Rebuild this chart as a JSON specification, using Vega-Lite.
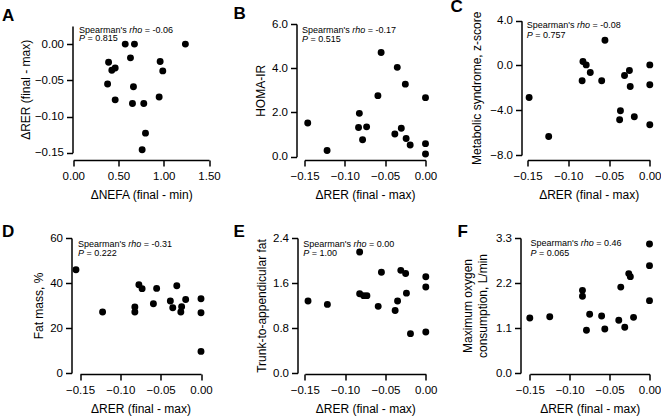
{
  "$schema": "https://vega.github.io/schema/vega-lite/v6.json",
  "autosize": {"type": "none"},
  "padding": {"left": 72.5, "top": 20, "right": 588.5, "bottom": 400},
  "bounds": "flush",
  "columns": 3,
  "spacing": {"row": 78, "column": 88},
  "datasets": {
    "A": [
      {"nefa": 0.574, "rer": 0}, {"nefa": 0.676, "rer": 0}, {"nefa": 1.239, "rer": 0},
      {"nefa": 0.632, "rer": -0.019}, {"nefa": 0.39, "rer": -0.025}, {"nefa": 0.96, "rer": -0.024},
      {"nefa": 0.463, "rer": -0.033}, {"nefa": 0.426, "rer": -0.036}, {"nefa": 0.989, "rer": -0.037},
      {"nefa": 0.379, "rer": -0.055}, {"nefa": 0.665, "rer": -0.059}, {"nefa": 0.949, "rer": -0.073},
      {"nefa": 0.463, "rer": -0.077}, {"nefa": 0.654, "rer": -0.082}, {"nefa": 0.779, "rer": -0.082},
      {"nefa": 0.798, "rer": -0.123}, {"nefa": 0.761, "rer": -0.146}
    ],
    "B": [
      {"rer": -0.146, "homa": 1.52}, {"rer": -0.122, "homa": 0.28}, {"rer": -0.082, "homa": 1.96},
      {"rer": -0.083, "homa": 1.32}, {"rer": -0.073, "homa": 1.35}, {"rer": -0.078, "homa": 0.77},
      {"rer": -0.059, "homa": 2.76}, {"rer": -0.055, "homa": 4.71}, {"rer": -0.038, "homa": 1.03},
      {"rer": -0.035, "homa": 4.04}, {"rer": -0.03, "homa": 1.29}, {"rer": -0.025, "homa": 3.28},
      {"rer": -0.024, "homa": 0.82}, {"rer": -0.019, "homa": 0.53}, {"rer": 0, "homa": 2.67},
      {"rer": 0, "homa": 0.59}, {"rer": 0, "homa": 0.12}
    ],
    "C": [
      {"rer": -0.148, "mets": -2.86}, {"rer": -0.124, "mets": -6.34}, {"rer": -0.082, "mets": 0.35},
      {"rer": -0.078, "mets": 0.05}, {"rer": -0.083, "mets": -1.37}, {"rer": -0.073, "mets": -0.63},
      {"rer": -0.059, "mets": -1.37}, {"rer": -0.055, "mets": 2.25}, {"rer": -0.036, "mets": -4.05},
      {"rer": -0.037, "mets": -4.85}, {"rer": -0.031, "mets": -0.9}, {"rer": -0.025, "mets": -0.45},
      {"rer": -0.024, "mets": -1.88}, {"rer": -0.019, "mets": -4.58}, {"rer": 0, "mets": 0.05},
      {"rer": 0, "mets": -1.73}, {"rer": 0, "mets": -5.3}
    ],
    "D": [
      {"rer": -0.155, "fat": 45.9}, {"rer": -0.122, "fat": 27.1}, {"rer": -0.077, "fat": 39.2},
      {"rer": -0.073, "fat": 37.5}, {"rer": -0.082, "fat": 29.3}, {"rer": -0.082, "fat": 27.1},
      {"rer": -0.059, "fat": 30.8}, {"rer": -0.055, "fat": 37.6}, {"rer": -0.038, "fat": 32.0},
      {"rer": -0.035, "fat": 29.0}, {"rer": -0.03, "fat": 38.8}, {"rer": -0.024, "fat": 29.5},
      {"rer": -0.025, "fat": 27.1}, {"rer": -0.019, "fat": 32.7}, {"rer": 0, "fat": 33.0},
      {"rer": 0, "fat": 26.8}, {"rer": 0, "fat": 9.6}
    ],
    "E": [
      {"rer": -0.146, "ratio": 1.28}, {"rer": -0.122, "ratio": 1.22}, {"rer": -0.082, "ratio": 2.15},
      {"rer": -0.082, "ratio": 1.41}, {"rer": -0.077, "ratio": 1.375}, {"rer": -0.073, "ratio": 1.375},
      {"rer": -0.059, "ratio": 1.185}, {"rer": -0.055, "ratio": 1.79}, {"rer": -0.038, "ratio": 1.11},
      {"rer": -0.035, "ratio": 1.28}, {"rer": -0.031, "ratio": 1.825}, {"rer": -0.025, "ratio": 1.77},
      {"rer": -0.024, "ratio": 1.42}, {"rer": -0.019, "ratio": 0.7}, {"rer": 0, "ratio": 1.71},
      {"rer": 0, "ratio": 1.53}, {"rer": 0, "ratio": 0.73}
    ],
    "F": [
      {"rer": -0.15, "vo2": 1.345}, {"rer": -0.125, "vo2": 1.377}, {"rer": -0.084, "vo2": 2.02},
      {"rer": -0.084, "vo2": 1.875}, {"rer": -0.075, "vo2": 1.434}, {"rer": -0.079, "vo2": 1.043},
      {"rer": -0.06, "vo2": 1.394}, {"rer": -0.056, "vo2": 1.076}, {"rer": -0.0385, "vo2": 1.288},
      {"rer": -0.036, "vo2": 2.1}, {"rer": -0.031, "vo2": 1.117}, {"rer": -0.026, "vo2": 2.43},
      {"rer": -0.024, "vo2": 2.355}, {"rer": -0.02, "vo2": 1.36}, {"rer": 0, "vo2": 3.154},
      {"rer": 0, "vo2": 2.624}, {"rer": 0, "vo2": 1.769}
    ],
    "notes": [
      {"panel": "A", "line": "rho", "x": 0.063, "y": 0.020, "label": "= -0.06"},
      {"panel": "A", "line": "P", "x": 0.063, "y": 0.008, "label": "= 0.815"},
      {"panel": "B", "line": "rho", "x": -0.153, "y": 5.73, "label": "= -0.17"},
      {"panel": "B", "line": "P", "x": -0.153, "y": 5.32, "label": "= 0.515"},
      {"panel": "C", "line": "rho", "x": -0.151, "y": 3.62, "label": "= -0.08"},
      {"panel": "C", "line": "P", "x": -0.151, "y": 2.75, "label": "= 0.757"},
      {"panel": "D", "line": "rho", "x": -0.1525, "y": 57.5, "label": "= -0.31"},
      {"panel": "D", "line": "P", "x": -0.1525, "y": 53.3, "label": "= 0.222"},
      {"panel": "E", "line": "rho", "x": -0.152, "y": 2.30, "label": "= 0.00"},
      {"panel": "E", "line": "P", "x": -0.152, "y": 2.133, "label": "= 1.00"},
      {"panel": "F", "line": "rho", "x": -0.149, "y": 3.17, "label": "= 0.46"},
      {"panel": "F", "line": "P", "x": -0.149, "y": 2.94, "label": "= 0.065"}
    ]
  },
  "concat": [
    {
      "width": 136.5, "height": 140,
      "title": {"text": "A", "dx": -70.5, "dy": 8.5},
      "layer": [
        {"data": {"name": "A"}, "mark": {"type": "circle", "size": 48, "color": "black", "opacity": 1},
         "encoding": {
           "x": {"field": "nefa", "type": "quantitative", "title": "ΔNEFA (final - min)", "scale": {"domain": [0, 1.5], "range": [0.8, 136.5], "nice": false, "zero": false}, "axis": {"values": [0, 0.5, 1, 1.5], "format": ".2f"}},
           "y": {"field": "rer", "type": "quantitative", "title": "ΔRER (final - max)", "scale": {"domain": [-0.15, 0.025], "range": [132.7, 6], "nice": false, "zero": false}, "axis": {"values": [-0.15, -0.1, -0.05, 0], "format": ".2f", "titlePadding": 2}}
         }},
        {"data": {"name": "notes"}, "transform": [{"filter": "datum.panel === 'A'"}],
         "encoding": {"x": {"field": "x", "type": "quantitative", "title": "ΔNEFA (final - min)"}, "y": {"field": "y", "type": "quantitative", "title": "ΔRER (final - max)"}},
         "layer": [
           {"transform": [{"filter": "datum.line === 'rho'"}], "mark": {"type": "text", "text": "Spearman's", "align": "left", "baseline": "middle", "fontSize": 9, "color": "black"}},
           {"transform": [{"filter": "datum.line === 'rho'"}], "mark": {"type": "text", "align": "left", "baseline": "middle", "fontSize": 9, "fontStyle": "italic", "color": "black", "dx": 50.2}, "encoding": {"text": {"field": "line"}}},
           {"transform": [{"filter": "datum.line === 'rho'"}], "mark": {"type": "text", "align": "left", "baseline": "middle", "fontSize": 9, "color": "black", "dx": 65.7}, "encoding": {"text": {"field": "label"}}},
           {"transform": [{"filter": "datum.line === 'P'"}], "mark": {"type": "text", "align": "left", "baseline": "middle", "fontSize": 9, "fontStyle": "italic", "color": "black"}, "encoding": {"text": {"field": "line"}}},
           {"transform": [{"filter": "datum.line === 'P'"}], "mark": {"type": "text", "align": "left", "baseline": "middle", "fontSize": 9, "color": "black", "dx": 8.5}, "encoding": {"text": {"field": "label"}}}
         ]}
      ]
    },
    {
      "width": 136, "height": 140,
      "title": {"text": "B", "dx": -64, "dy": 8.5},
      "layer": [
        {"data": {"name": "B"}, "mark": {"type": "circle", "size": 48, "color": "black", "opacity": 1},
         "encoding": {
           "x": {"field": "rer", "type": "quantitative", "title": "ΔRER (final - max)", "scale": {"domain": [-0.15, 0], "range": [7, 128], "nice": false, "zero": false}, "axis": {"values": [-0.15, -0.1, -0.05, 0], "format": ".2f"}},
           "y": {"field": "homa", "type": "quantitative", "title": "HOMA-IR", "scale": {"domain": [0, 6], "range": [136.7, 4], "nice": false, "zero": false}, "axis": {"values": [0, 2, 4, 6], "format": ".1f", "offset": 1, "titlePadding": 4}}
         }},
        {"data": {"name": "notes"}, "transform": [{"filter": "datum.panel === 'B'"}],
         "encoding": {"x": {"field": "x", "type": "quantitative", "title": "ΔRER (final - max)"}, "y": {"field": "y", "type": "quantitative", "title": "HOMA-IR"}},
         "layer": [
           {"transform": [{"filter": "datum.line === 'rho'"}], "mark": {"type": "text", "text": "Spearman's", "align": "left", "baseline": "middle", "fontSize": 9, "color": "black"}},
           {"transform": [{"filter": "datum.line === 'rho'"}], "mark": {"type": "text", "align": "left", "baseline": "middle", "fontSize": 9, "fontStyle": "italic", "color": "black", "dx": 50.2}, "encoding": {"text": {"field": "line"}}},
           {"transform": [{"filter": "datum.line === 'rho'"}], "mark": {"type": "text", "align": "left", "baseline": "middle", "fontSize": 9, "color": "black", "dx": 65.7}, "encoding": {"text": {"field": "label"}}},
           {"transform": [{"filter": "datum.line === 'P'"}], "mark": {"type": "text", "align": "left", "baseline": "middle", "fontSize": 9, "fontStyle": "italic", "color": "black"}, "encoding": {"text": {"field": "line"}}},
           {"transform": [{"filter": "datum.line === 'P'"}], "mark": {"type": "text", "align": "left", "baseline": "middle", "fontSize": 9, "color": "black", "dx": 8.5}, "encoding": {"text": {"field": "label"}}}
         ]}
      ]
    },
    {
      "width": 130, "height": 140,
      "title": {"text": "C", "dx": -71, "dy": 8.5},
      "layer": [
        {"data": {"name": "C"}, "mark": {"type": "circle", "size": 48, "color": "black", "opacity": 1},
         "encoding": {
           "x": {"field": "rer", "type": "quantitative", "title": "ΔRER (final - max)", "scale": {"domain": [-0.15, 0], "range": [6, 128.3], "nice": false, "zero": false}, "axis": {"values": [-0.15, -0.1, -0.05, 0], "format": ".2f"}},
           "y": {"field": "mets", "type": "quantitative", "title": "Metabolic syndrome, z-score", "scale": {"domain": [-8, 4], "range": [135, 0.7], "nice": false, "zero": false}, "axis": {"values": [-8, -4, 0, 4], "format": ".1f", "titlePadding": 6}}
         }},
        {"data": {"name": "notes"}, "transform": [{"filter": "datum.panel === 'C'"}],
         "encoding": {"x": {"field": "x", "type": "quantitative", "title": "ΔRER (final - max)"}, "y": {"field": "y", "type": "quantitative", "title": "Metabolic syndrome, z-score"}},
         "layer": [
           {"transform": [{"filter": "datum.line === 'rho'"}], "mark": {"type": "text", "text": "Spearman's", "align": "left", "baseline": "middle", "fontSize": 9, "color": "black"}},
           {"transform": [{"filter": "datum.line === 'rho'"}], "mark": {"type": "text", "align": "left", "baseline": "middle", "fontSize": 9, "fontStyle": "italic", "color": "black", "dx": 50.2}, "encoding": {"text": {"field": "line"}}},
           {"transform": [{"filter": "datum.line === 'rho'"}], "mark": {"type": "text", "align": "left", "baseline": "middle", "fontSize": 9, "color": "black", "dx": 65.7}, "encoding": {"text": {"field": "label"}}},
           {"transform": [{"filter": "datum.line === 'P'"}], "mark": {"type": "text", "align": "left", "baseline": "middle", "fontSize": 9, "fontStyle": "italic", "color": "black"}, "encoding": {"text": {"field": "line"}}},
           {"transform": [{"filter": "datum.line === 'P'"}], "mark": {"type": "text", "align": "left", "baseline": "middle", "fontSize": 9, "color": "black", "dx": 8.5}, "encoding": {"text": {"field": "label"}}}
         ]}
      ]
    },
    {
      "width": 136.5, "height": 135,
      "title": {"text": "D", "dx": -70.5, "dy": 12.5},
      "layer": [
        {"data": {"name": "D"}, "mark": {"type": "circle", "size": 48, "color": "black", "opacity": 1},
         "encoding": {
           "x": {"field": "rer", "type": "quantitative", "title": "ΔRER (final - max)", "scale": {"domain": [-0.15, 0], "range": [7.5, 128.5], "nice": false, "zero": false}, "axis": {"values": [-0.15, -0.1, -0.05, 0], "format": ".2f", "offset": 1}},
           "y": {"field": "fat", "type": "quantitative", "title": "Fat mass, %", "scale": {"domain": [0, 60], "nice": false, "zero": false}, "axis": {"values": [0, 20, 40, 60], "format": "d", "offset": 1, "titlePadding": 4}}
         }},
        {"data": {"name": "notes"}, "transform": [{"filter": "datum.panel === 'D'"}],
         "encoding": {"x": {"field": "x", "type": "quantitative", "title": "ΔRER (final - max)"}, "y": {"field": "y", "type": "quantitative", "title": "Fat mass, %"}},
         "layer": [
           {"transform": [{"filter": "datum.line === 'rho'"}], "mark": {"type": "text", "text": "Spearman's", "align": "left", "baseline": "middle", "fontSize": 9, "color": "black"}},
           {"transform": [{"filter": "datum.line === 'rho'"}], "mark": {"type": "text", "align": "left", "baseline": "middle", "fontSize": 9, "fontStyle": "italic", "color": "black", "dx": 50.2}, "encoding": {"text": {"field": "line"}}},
           {"transform": [{"filter": "datum.line === 'rho'"}], "mark": {"type": "text", "align": "left", "baseline": "middle", "fontSize": 9, "color": "black", "dx": 65.7}, "encoding": {"text": {"field": "label"}}},
           {"transform": [{"filter": "datum.line === 'P'"}], "mark": {"type": "text", "align": "left", "baseline": "middle", "fontSize": 9, "fontStyle": "italic", "color": "black"}, "encoding": {"text": {"field": "line"}}},
           {"transform": [{"filter": "datum.line === 'P'"}], "mark": {"type": "text", "align": "left", "baseline": "middle", "fontSize": 9, "color": "black", "dx": 8.5}, "encoding": {"text": {"field": "label"}}}
         ]}
      ]
    },
    {
      "width": 136, "height": 135,
      "title": {"text": "E", "dx": -64, "dy": 12.5},
      "layer": [
        {"data": {"name": "E"}, "mark": {"type": "circle", "size": 48, "color": "black", "opacity": 1},
         "encoding": {
           "x": {"field": "rer", "type": "quantitative", "title": "ΔRER (final - max)", "scale": {"domain": [-0.15, 0], "range": [7.3, 128.3], "nice": false, "zero": false}, "axis": {"values": [-0.15, -0.1, -0.05, 0], "format": ".2f", "offset": 1}},
           "y": {"field": "ratio", "type": "quantitative", "title": "Trunk-to-appendicular fat", "scale": {"domain": [0, 2.4], "nice": false, "zero": false}, "axis": {"values": [0, 0.8, 1.6, 2.4], "format": ".1f", "titlePadding": 4}}
         }},
        {"data": {"name": "notes"}, "transform": [{"filter": "datum.panel === 'E'"}],
         "encoding": {"x": {"field": "x", "type": "quantitative", "title": "ΔRER (final - max)"}, "y": {"field": "y", "type": "quantitative", "title": "Trunk-to-appendicular fat"}},
         "layer": [
           {"transform": [{"filter": "datum.line === 'rho'"}], "mark": {"type": "text", "text": "Spearman's", "align": "left", "baseline": "middle", "fontSize": 9, "color": "black"}},
           {"transform": [{"filter": "datum.line === 'rho'"}], "mark": {"type": "text", "align": "left", "baseline": "middle", "fontSize": 9, "fontStyle": "italic", "color": "black", "dx": 50.2}, "encoding": {"text": {"field": "line"}}},
           {"transform": [{"filter": "datum.line === 'rho'"}], "mark": {"type": "text", "align": "left", "baseline": "middle", "fontSize": 9, "color": "black", "dx": 65.7}, "encoding": {"text": {"field": "label"}}},
           {"transform": [{"filter": "datum.line === 'P'"}], "mark": {"type": "text", "align": "left", "baseline": "middle", "fontSize": 9, "fontStyle": "italic", "color": "black"}, "encoding": {"text": {"field": "line"}}},
           {"transform": [{"filter": "datum.line === 'P'"}], "mark": {"type": "text", "align": "left", "baseline": "middle", "fontSize": 9, "color": "black", "dx": 8.5}, "encoding": {"text": {"field": "label"}}}
         ]}
      ]
    },
    {
      "width": 130, "height": 135,
      "title": {"text": "F", "dx": -64, "dy": 12.5},
      "layer": [
        {"data": {"name": "F"}, "mark": {"type": "circle", "size": 48, "color": "black", "opacity": 1},
         "encoding": {
           "x": {"field": "rer", "type": "quantitative", "title": "ΔRER (final - max)", "scale": {"domain": [-0.15, 0], "range": [8.3, 128], "nice": false, "zero": false}, "axis": {"values": [-0.15, -0.1, -0.05, 0], "format": ".2f", "offset": 1}},
           "y": {"field": "vo2", "type": "quantitative", "title": ["Maximum oxygen", "consumption, L/min"], "scale": {"domain": [0, 3.3], "nice": false, "zero": false}, "axis": {"values": [0, 1.1, 2.2, 3.3], "format": ".1f", "offset": 1, "titlePadding": 6, "titleLineHeight": 15}}
         }},
        {"data": {"name": "notes"}, "transform": [{"filter": "datum.panel === 'F'"}],
         "encoding": {"x": {"field": "x", "type": "quantitative", "title": "ΔRER (final - max)"}, "y": {"field": "y", "type": "quantitative", "title": ["Maximum oxygen", "consumption, L/min"]}},
         "layer": [
           {"transform": [{"filter": "datum.line === 'rho'"}], "mark": {"type": "text", "text": "Spearman's", "align": "left", "baseline": "middle", "fontSize": 9, "color": "black"}},
           {"transform": [{"filter": "datum.line === 'rho'"}], "mark": {"type": "text", "align": "left", "baseline": "middle", "fontSize": 9, "fontStyle": "italic", "color": "black", "dx": 50.2}, "encoding": {"text": {"field": "line"}}},
           {"transform": [{"filter": "datum.line === 'rho'"}], "mark": {"type": "text", "align": "left", "baseline": "middle", "fontSize": 9, "color": "black", "dx": 65.7}, "encoding": {"text": {"field": "label"}}},
           {"transform": [{"filter": "datum.line === 'P'"}], "mark": {"type": "text", "align": "left", "baseline": "middle", "fontSize": 9, "fontStyle": "italic", "color": "black"}, "encoding": {"text": {"field": "line"}}},
           {"transform": [{"filter": "datum.line === 'P'"}], "mark": {"type": "text", "align": "left", "baseline": "middle", "fontSize": 9, "color": "black", "dx": 8.5}, "encoding": {"text": {"field": "label"}}}
         ]}
      ]
    }
  ],
  "config": {
    "view": {"stroke": null},
    "font": "Liberation Sans",
    "axis": {
      "domainColor": "black", "domainWidth": 1.5, "tickColor": "black", "tickWidth": 1.5, "tickSize": 6,
      "labelColor": "black", "labelFontSize": 11.5, "labelPadding": 3, "labelFlush": false, "labelOverlap": false, "labelBound": false,
      "titleFontSize": 12, "titleFontWeight": "normal", "titleColor": "black", "titlePadding": 5, "grid": false
    },
    "axisX": {"labelPadding": 4, "titlePadding": 8},
    "title": {"fontSize": 17, "fontWeight": "bold", "color": "black", "anchor": "start", "frame": "group", "baseline": "alphabetic", "offset": 0}
  }
}
